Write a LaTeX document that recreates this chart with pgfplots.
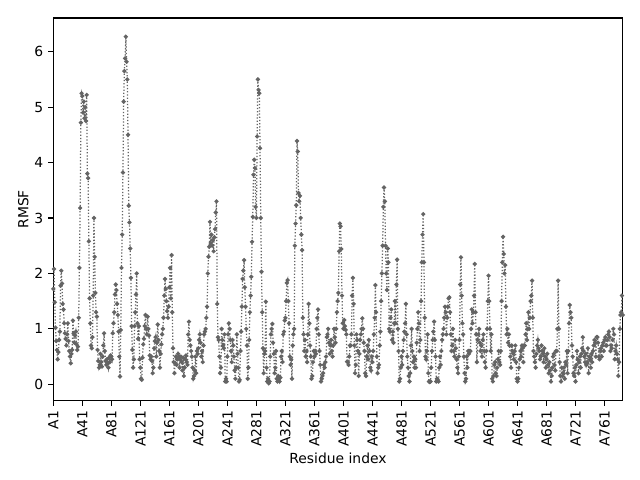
\documentclass[border=0pt]{standalone}
\usepackage{fontspec}
\setmainfont{DejaVu Sans}
\usepackage{pgfplots}
\pgfplotsset{compat=1.18}
\definecolor{linegray}{RGB}{100,100,100}
\begin{document}
\fontsize{10bp}{12bp}\selectfont
\begin{tikzpicture}
\path[use as bounding box] (0,0) rectangle (460.8bp,345.6bp);
\begin{axis}[
  at={(38.38bp,57.1bp)}, anchor=south west,
  scale only axis, width=409.97bp, height=275.5bp,
  xmin=0, xmax=785, ymin=-0.296, ymax=6.607,
  xtick={0,40,...,760},
  xticklabels={A1,A41,A81,A121,A161,A201,A241,A281,A321,A361,A401,A441,A481,A521,A561,A601,A641,A681,A721,A761},
  ytick={0,1,2,3,4,5,6}, yticklabels={0,1,2,3,4,5,6},
  tick align=outside, major tick length=3.5bp, tick pos=left,
  axis line style={line width=0.8bp},
  every tick/.style={black, line width=0.8bp},
  xticklabel style={rotate=90, anchor=east, inner sep=0pt},
  yticklabel style={anchor=east, inner sep=0pt},
  xticklabel shift=3.5bp, yticklabel shift=3.5bp,
  xlabel={Residue index}, xlabel style={at={(axis description cs:0.5,-0.1505)}, anchor=center},
  ylabel={RMSF}, ylabel style={at={(axis description cs:-0.0527,0.5)}, anchor=center},
]
\addplot[color=linegray, line width=0.9bp, dash pattern=on 0.9bp off 1.4bp,
  mark=*, mark size=1.05bp, mark options={solid, fill=linegray, draw=none}]
  table[row sep=\\, x expr=\coordindex, y index=0] {
y\\
1.72\\2.08\\1.48\\1.02\\0.78\\0.62\\0.45\\0.58\\0.80\\0.95\\
1.78\\2.05\\1.82\\1.45\\1.35\\1.10\\0.92\\0.82\\0.70\\0.90\\
1.10\\0.78\\0.60\\0.50\\0.38\\0.55\\0.62\\1.15\\0.92\\0.75\\
0.88\\0.95\\0.72\\0.62\\0.68\\1.20\\2.10\\3.18\\4.72\\5.25\\
5.20\\4.90\\5.10\\4.80\\5.00\\4.75\\5.22\\3.80\\3.72\\2.58\\
1.55\\1.10\\0.70\\0.65\\0.85\\1.60\\3.00\\2.30\\1.65\\1.30\\
1.22\\0.62\\0.42\\0.30\\0.35\\0.55\\0.40\\0.32\\0.50\\0.70\\
0.92\\0.60\\0.42\\0.35\\0.45\\0.38\\0.30\\0.48\\0.40\\0.52\\
0.50\\0.45\\0.92\\1.10\\1.30\\1.62\\1.80\\1.70\\1.45\\1.25\\
0.95\\0.50\\0.14\\0.98\\2.10\\2.70\\3.82\\5.10\\5.65\\5.88\\
6.27\\5.82\\5.50\\4.50\\3.22\\2.92\\2.45\\1.92\\1.05\\0.62\\
0.30\\0.45\\1.05\\1.30\\1.62\\2.00\\1.10\\0.82\\1.05\\0.45\\
0.30\\0.10\\0.08\\0.48\\0.72\\0.82\\1.05\\1.25\\1.00\\0.90\\
1.22\\1.00\\0.88\\0.52\\0.45\\0.50\\0.42\\0.20\\0.30\\0.65\\
0.78\\0.85\\0.50\\0.75\\1.08\\0.80\\0.60\\0.30\\0.55\\0.72\\
0.90\\1.00\\1.20\\1.60\\1.90\\1.72\\1.50\\1.32\\1.20\\1.40\\
1.75\\2.10\\1.55\\2.33\\1.30\\0.65\\0.40\\0.20\\0.38\\0.50\\
0.35\\0.45\\0.55\\0.50\\0.30\\0.45\\0.50\\0.40\\0.25\\0.48\\
0.15\\0.30\\0.45\\0.52\\0.40\\0.35\\0.90\\1.13\\0.80\\0.70\\
0.60\\0.50\\0.30\\0.10\\0.15\\0.25\\0.50\\0.20\\0.60\\0.55\\
0.65\\0.80\\0.90\\0.75\\0.50\\0.60\\0.40\\0.70\\0.90\\0.95\\
1.00\\1.20\\1.40\\2.00\\2.30\\2.48\\2.93\\2.55\\2.70\\2.50\\
2.60\\2.40\\2.65\\2.80\\3.10\\3.30\\1.45\\0.85\\0.80\\0.50\\
0.20\\0.30\\1.00\\0.80\\0.70\\0.65\\0.90\\0.05\\0.10\\0.05\\
0.50\\0.90\\1.10\\1.00\\0.80\\0.60\\0.40\\0.80\\0.70\\0.50\\
0.25\\0.10\\0.30\\0.90\\0.55\\0.30\\0.05\\0.08\\0.60\\0.95\\
1.40\\1.90\\2.05\\2.24\\1.75\\1.40\\1.00\\0.70\\0.10\\0.30\\
0.80\\1.30\\1.60\\1.94\\2.57\\3.02\\3.78\\4.05\\3.90\\3.20\\
3.00\\4.47\\5.50\\5.31\\5.25\\4.26\\3.00\\2.03\\1.30\\0.65\\
0.20\\0.55\\0.60\\1.49\\0.30\\0.05\\0.10\\0.02\\0.05\\0.50\\
0.90\\1.00\\1.09\\0.75\\0.55\\0.20\\0.30\\0.60\\0.10\\0.05\\
0.15\\0.10\\0.05\\0.12\\0.50\\0.60\\0.40\\0.90\\0.95\\1.15\\
1.20\\1.50\\1.83\\1.88\\1.50\\1.10\\0.50\\0.35\\0.45\\0.10\\
0.70\\0.90\\1.00\\2.50\\2.90\\3.23\\4.39\\4.20\\3.45\\3.30\\
3.40\\3.00\\2.70\\2.42\\1.20\\0.90\\0.60\\0.80\\0.50\\0.60\\
0.40\\0.90\\1.45\\1.10\\0.70\\0.50\\0.10\\0.15\\0.40\\0.60\\
0.50\\0.60\\0.55\\1.00\\1.20\\1.35\\0.90\\0.60\\0.35\\0.05\\
0.10\\0.15\\0.20\\0.35\\0.30\\0.40\\0.50\\0.85\\0.90\\1.00\\
0.75\\0.55\\0.70\\0.80\\0.60\\0.50\\0.70\\1.00\\0.85\\0.75\\
1.00\\1.30\\1.50\\1.65\\2.40\\2.90\\2.85\\2.44\\1.60\\1.10\\
1.00\\1.16\\1.05\\0.98\\0.90\\0.41\\0.40\\0.35\\0.50\\0.70\\
0.70\\0.90\\1.60\\1.92\\1.45\\0.70\\0.20\\0.35\\0.90\\0.80\\
0.60\\0.15\\0.55\\0.80\\0.90\\1.00\\1.19\\1.00\\0.75\\0.60\\
0.20\\0.15\\0.50\\0.70\\0.45\\0.80\\0.60\\0.30\\0.25\\0.50\\
0.40\\0.60\\0.90\\1.20\\1.79\\1.30\\0.50\\0.20\\0.30\\0.35\\
0.70\\0.95\\1.50\\2.00\\2.50\\3.20\\3.55\\3.30\\2.50\\2.00\\
1.70\\2.45\\2.20\\1.00\\0.95\\1.20\\1.35\\0.80\\0.95\\0.75\\
1.10\\1.50\\1.10\\1.80\\2.25\\1.00\\0.60\\0.05\\0.10\\0.30\\
0.50\\0.35\\0.60\\0.80\\0.95\\1.10\\1.45\\0.90\\0.50\\0.30\\
0.15\\0.05\\0.20\\0.70\\1.00\\0.60\\0.40\\0.50\\0.30\\0.45\\
0.30\\0.75\\1.00\\1.30\\1.10\\0.60\\0.80\\1.50\\2.20\\2.70\\
3.07\\2.20\\1.20\\0.50\\0.45\\0.60\\0.90\\0.20\\0.05\\0.04\\
0.05\\0.30\\0.60\\0.80\\0.95\\1.13\\0.80\\0.50\\0.05\\0.10\\
0.08\\0.05\\0.30\\0.50\\0.35\\0.60\\0.80\\0.90\\1.00\\1.20\\
1.40\\1.30\\0.90\\1.20\\1.40\\1.55\\1.57\\1.30\\0.90\\0.60\\
0.70\\1.00\\0.60\\0.50\\0.80\\0.65\\0.45\\0.30\\0.20\\0.50\\
0.80\\1.80\\2.29\\1.60\\1.10\\0.90\\0.50\\0.20\\0.05\\0.10\\
0.50\\0.30\\0.60\\0.55\\0.60\\0.60\\1.00\\1.35\\1.10\\1.30\\
1.60\\2.17\\1.30\\0.90\\0.40\\0.80\\0.90\\1.00\\0.75\\0.60\\
0.70\\0.50\\0.80\\0.90\\0.60\\0.40\\0.30\\0.60\\1.00\\1.50\\
1.96\\1.50\\1.00\\0.60\\0.90\\0.10\\0.05\\0.15\\0.35\\0.40\\
0.20\\0.15\\0.30\\0.45\\0.60\\0.40\\0.35\\0.60\\1.50\\2.20\\
2.66\\2.35\\2.00\\2.15\\1.40\\0.90\\1.00\\0.75\\0.90\\0.70\\
0.50\\0.30\\0.70\\0.60\\0.55\\0.45\\0.60\\0.70\\0.40\\0.10\\
0.05\\0.10\\0.30\\0.45\\0.60\\0.50\\0.70\\0.65\\0.40\\0.70\\
0.70\\0.90\\1.10\\0.80\\1.00\\1.30\\1.00\\1.20\\1.50\\1.60\\
1.87\\1.20\\0.60\\0.50\\0.40\\0.30\\0.55\\0.70\\0.80\\0.65\\
0.60\\0.45\\0.50\\0.70\\0.60\\0.55\\0.40\\0.65\\0.50\\0.30\\
0.45\\0.55\\0.35\\0.20\\0.40\\0.25\\0.05\\0.15\\0.30\\0.50\\
0.55\\0.35\\0.25\\0.60\\0.60\\1.00\\1.87\\1.00\\0.40\\0.15\\
0.05\\0.30\\0.15\\0.20\\0.30\\0.10\\0.40\\0.35\\0.60\\0.20\\
0.60\\1.10\\1.43\\1.30\\1.20\\0.70\\0.50\\0.20\\0.15\\0.30\\
0.05\\0.35\\0.60\\0.45\\0.20\\0.40\\0.50\\0.30\\0.55\\0.65\\
0.85\\0.60\\0.50\\0.40\\0.55\\0.35\\0.40\\0.65\\0.20\\0.50\\
0.45\\0.30\\0.55\\0.40\\0.60\\0.70\\0.80\\0.75\\0.50\\0.85\\
0.85\\0.75\\0.50\\0.45\\0.60\\0.65\\0.50\\0.70\\0.75\\0.60\\
0.80\\0.85\\0.70\\0.70\\0.80\\0.90\\0.95\\0.85\\0.60\\0.70\\
0.65\\0.80\\1.00\\0.90\\0.45\\0.60\\0.70\\0.55\\0.45\\0.15\\
0.40\\1.00\\1.25\\1.30\\1.60\\1.25\\
};
\end{axis}
\end{tikzpicture}
\end{document}
